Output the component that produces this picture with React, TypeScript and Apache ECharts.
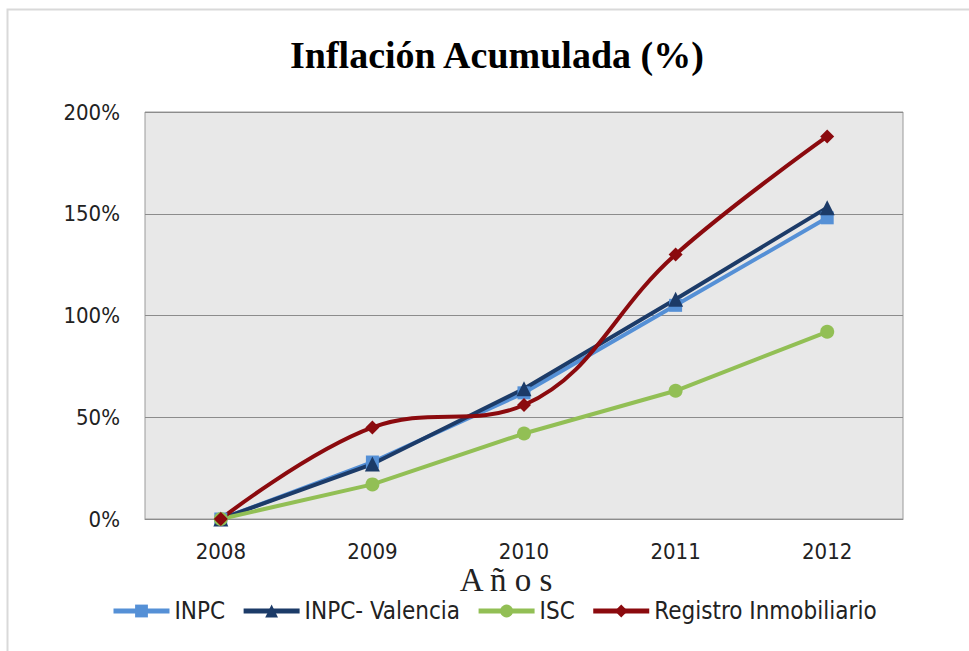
import React, { useEffect, useRef } from "react";
import * as echarts from "echarts";

const years = ["2008", "2009", "2010", "2011", "2012"];
const inpc = [0, 28, 62, 105, 148];
const inpcValencia = [0, 27, 64, 108, 153];
const isc = [0, 17, 42, 63, 92];
const registro = [0, 45, 56, 130, 188];
const yTicks = [0, 50, 100, 150, 200];

const labelFont = "'DejaVu Sans Condensed', 'DejaVu Sans', sans-serif";

export default function App() {
  const ref = useRef<HTMLDivElement>(null);
  useEffect(() => {
    document.body.style.margin = "0";
    const chart = echarts.init(ref.current!, undefined, { renderer: "svg" });
    const mk = (name: string, data: number[], color: string, symbol: string, size: number, smooth: any = false) => ({
      name,
      type: "line",
      data,
      smooth,
      symbol,
      symbolSize: size,
      lineStyle: { color, width: 4 },
      itemStyle: { color },
      z: 3,
    });
    chart.setOption({
      animation: false,
      backgroundColor: "#ffffff",
      title: {
        text: "Inflación Acumulada (%)",
        left: 285,
        top: 31,
        textStyle: {
          fontFamily: "'Liberation Serif', serif",
          fontWeight: "bold",
          fontSize: 38,
          color: "#000",
        },
      },
      graphic: [
        {
          type: "rect",
          shape: { x: 7.5, y: 9.5, width: 1200, height: 900 },
          style: { fill: "none", stroke: "#d9d9d9", lineWidth: 2 },
          silent: true,
          z: -10,
        },
        {
          type: "text",
          x: 506,
          y: 580,
          style: {
            text: "A ñ o s",
            fontFamily: "'Liberation Serif', serif",
            fontSize: 33,
            fill: "#222",
            align: "center",
            verticalAlign: "middle",
          },
        },
      ],
      legend: {
        left: 106,
        top: 594,
        itemWidth: 56,
        itemHeight: 16,
        itemGap: 16,
        lineStyle: { width: 5 },
        textStyle: { fontFamily: labelFont, fontSize: 24, color: "#222" },
        data: ["INPC", "INPC- Valencia", "ISC", "Registro Inmobiliario"],
      },
      grid: {
        left: 145,
        right: 66,
        top: 112,
        bottom: 132,
        show: true,
        backgroundColor: "#e8e8e8",
        borderColor: "#9a9a9a",
        borderWidth: 1,
      },
      xAxis: {
        type: "category",
        data: years,
        boundaryGap: true,
        axisLine: { show: true, lineStyle: { color: "#8c8c8c" } },
        axisTick: { show: false },
        axisLabel: { margin: 21, fontFamily: labelFont, fontSize: 22, color: "#222" },
      },
      yAxis: {
        type: "value",
        min: yTicks[0],
        max: yTicks[yTicks.length - 1],
        interval: 50,
        axisLine: { show: false },
        axisTick: { show: false },
        splitLine: { lineStyle: { color: "#8c8c8c", width: 1 } },
        axisLabel: {
          margin: 25,
          fontFamily: labelFont,
          fontSize: 22,
          color: "#222",
          formatter: (v: number) => v + "%",
        },
      },
      series: [
        mk("INPC", inpc, "#5590d6", "rect", 13),
        mk("INPC- Valencia", inpcValencia, "#1c3b68", "triangle", 15),
        mk("ISC", isc, "#92bf55", "circle", 14),
        mk("Registro Inmobiliario", registro, "#8b0a0e", "diamond", 14, 0.4),
      ],
    });
    return () => chart.dispose();
  }, []);
  return <div ref={ref} style={{ position: "absolute", left: 0, top: 0, width: 969, height: 651 }} />;
}
